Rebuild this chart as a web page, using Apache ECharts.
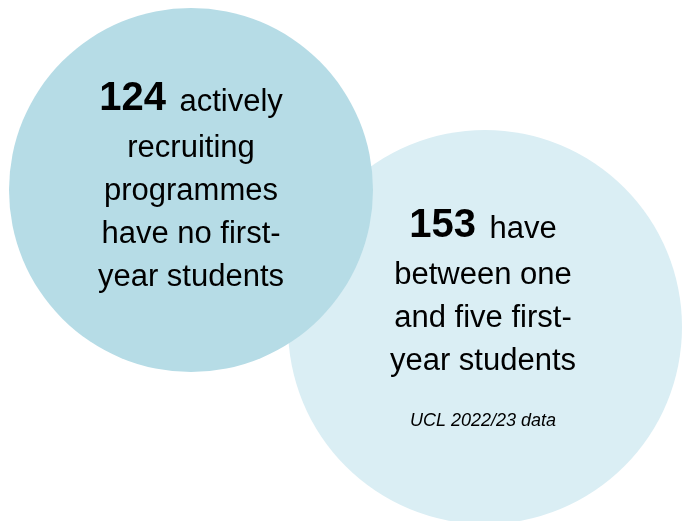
<!DOCTYPE html>
<html>
<head>
<meta charset="utf-8">
<script src="https://cdn.jsdelivr.net/npm/echarts@6/dist/echarts.min.js"></script>
<style>
html,body{margin:0;padding:0;background:#fff;}
#chart{width:688px;height:521px;}
</style>
</head>
<body>
<div id="chart"></div>
<script>
// ---- data ----
const counts = [124, 153];
const leadWords = ["actively", "have"];
const descriptionLines = [
  ["recruiting", "programmes", "have no first-", "year students"],
  ["between one", "and five first-", "year students"]
];
const sourceNote = "UCL 2022/23 data";

// ---- layout (pixel space of hidden axes) ----
const layout = {
  centers: [[191, 190], [485, 327]],
  diameters: [364, 394],
  colors: ['#b6dce6', '#daeef4'],
  labelOffsets: [[0, -5], [-2, 1]]
};

function buildLabel(i) {
  let s = '{b|' + counts[i] + '}{n1| ' + leadWords[i] + '}';
  descriptionLines[i].forEach(function (l) { s += '\n{n|' + l + '}'; });
  if (i === 1) s += '\n{s|' + sourceNote + '}';
  return s;
}

const font = '"Liberation Sans", Arial, Helvetica, sans-serif';
const rich = {
  b: { fontFamily: font, fontSize: 40, fontWeight: 'bold', color: '#000', lineHeight: 56, padding: [0, 5, 0, 0] },
  n1: { fontFamily: font, fontSize: 31, color: '#000', lineHeight: 49, verticalAlign: 'bottom', padding: [0, 0, 9, 0] },
  n: { fontFamily: font, fontSize: 31, color: '#000', lineHeight: 43 },
  s: { fontFamily: font, fontSize: 18, fontStyle: 'italic', color: '#000', lineHeight: 75 }
};

function makeSeries(i, z) {
  return {
    type: 'scatter',
    z: z,
    silent: true,
    symbol: 'circle',
    symbolSize: layout.diameters[i],
    itemStyle: { color: layout.colors[i], opacity: 1 },
    label: {
      show: true,
      position: 'inside',
      offset: layout.labelOffsets[i],
      align: 'center',
      formatter: function () { return buildLabel(i); },
      rich: rich
    },
    data: [{ value: layout.centers[i], count: counts[i] }]
  };
}

const chart = echarts.init(document.getElementById('chart'), null, { renderer: 'canvas' });
chart.setOption({
  animation: false,
  backgroundColor: '#ffffff',
  grid: { left: 0, right: 0, top: 0, bottom: 0 },
  xAxis: { type: 'value', min: 0, max: 688, show: false },
  yAxis: { type: 'value', min: 0, max: 521, inverse: true, show: false },
  series: [makeSeries(1, 2), makeSeries(0, 3)]
});
</script>
</body>
</html>
